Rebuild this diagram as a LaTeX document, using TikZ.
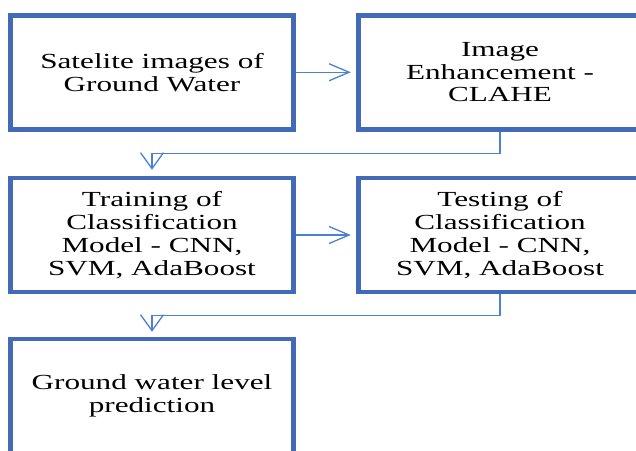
\documentclass[tikz,border=0pt]{standalone}
\usepackage{fontspec}
\setmainfont{Liberation Serif}[FakeStretch=1.45]
\usetikzlibrary{arrows.meta}
\definecolor{boxblue}{RGB}{66,106,182}
\definecolor{lineblue}{RGB}{76,128,208}
\begin{document}
\begin{tikzpicture}[x=1pt,y=-1pt,
  stepbox/.style={draw=boxblue, line width=4.5pt, minimum width=283pt, minimum height=114pt,
    inner sep=0pt, align=center, font=\fontsize{21.5pt}{22.8pt}\selectfont, text=black},
  conn/.style={draw=lineblue, line width=1.3pt},
  tipright/.style={-{Straight Barb[length=20pt,width=17pt,line width=1.3pt]}},
  tipdown/.style={-{Straight Barb[length=16pt,width=23pt,line width=1.3pt]}}
]
\useasboundingbox (0,0) rectangle (636,450);
\node[stepbox] (A) at (152,72.25) {Satelite images of\\Ground Water};
\node[stepbox] (B) at (500,72.25) {Image\\Enhancement -\\CLAHE};
\node[stepbox] (C) at (152,235) {Training of\\Classification\\Model - CNN,\\SVM, AdaBoost};
\node[stepbox] (D) at (500,235) {Testing of\\Classification\\Model - CNN,\\SVM, AdaBoost};
\node[stepbox] (E) at (152,396) {Ground water level\\prediction};
\draw[conn, tipright, shorten >=5.5pt] (A.east) -- (B.west);
\draw[conn, tipright, shorten >=5.5pt] (C.east) -- (D.west);
\draw[conn, tipdown, shorten >=6pt] (B.south) -- ++(0,22) -| (C.north);
\draw[conn, tipdown, shorten >=5pt] (D.south) -- ++(0,21.5) -| (E.north);
\end{tikzpicture}
\end{document}
